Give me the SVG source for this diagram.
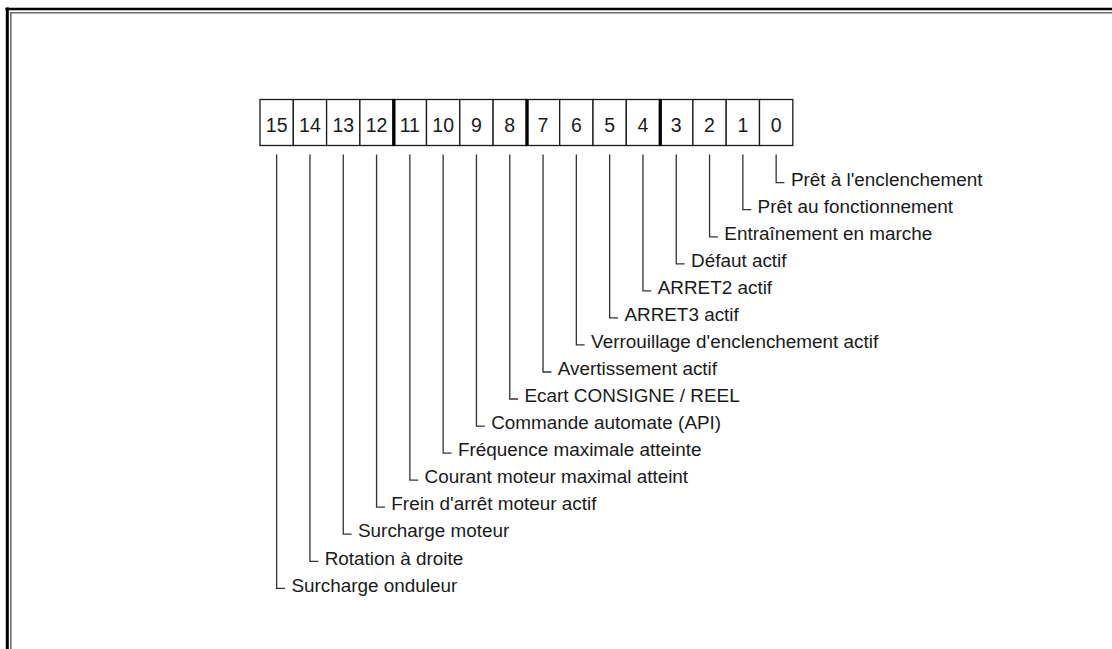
<svg xmlns="http://www.w3.org/2000/svg" width="1112" height="649" viewBox="0 0 1112 649">
  <style>
    .cell { fill: #fff; stroke: #1a1a1a; stroke-width: 1.3; }
    .sep { stroke: #000; stroke-width: 3.2; }
    .num { font-family: "Liberation Sans", Arial, sans-serif; font-size: 19.5px; fill: #1a1a1a; text-anchor: middle; }
    .lbl { font-family: "Liberation Sans", Arial, sans-serif; font-size: 18.9px; fill: #1a1a1a; }
    .conn { fill: none; stroke: #333; stroke-width: 1.3; }
    .frame-outer { stroke: #000; fill: none; }
    .frame-inner { stroke: #6a6a6a; fill: none; stroke-width: 1.5; }
  </style>

  <rect width="1112" height="649" fill="#fff"/>

  <!-- double frame (top and left edges) -->
  <g id="frame">
    <line class="frame-outer" x1="5.5" y1="9" x2="1112" y2="9" stroke-width="2.4"/>
    <line class="frame-outer" x1="7.3" y1="7.5" x2="7.3" y2="649" stroke-width="3"/>
    <line class="frame-inner" x1="10" y1="12.8" x2="1112" y2="12.8"/>
    <line class="frame-inner" x1="10.8" y1="12" x2="10.8" y2="649"/>
  </g>

  <!-- status word: bits 15 .. 0 -->
  <g id="bit15"><rect class="cell" x="260" y="99.5" width="33.3" height="46"/><text class="num" x="276.65" y="132">15</text></g>
  <g id="bit14"><rect class="cell" x="293.3" y="99.5" width="33.3" height="46"/><text class="num" x="309.95" y="132">14</text></g>
  <g id="bit13"><rect class="cell" x="326.6" y="99.5" width="33.3" height="46"/><text class="num" x="343.25" y="132">13</text></g>
  <g id="bit12"><rect class="cell" x="359.9" y="99.5" width="33.3" height="46"/><text class="num" x="376.55" y="132">12</text></g>
  <g id="bit11"><rect class="cell" x="393.2" y="99.5" width="33.3" height="46"/><text class="num" x="409.85" y="132">11</text></g>
  <g id="bit10"><rect class="cell" x="426.5" y="99.5" width="33.3" height="46"/><text class="num" x="443.15" y="132">10</text></g>
  <g id="bit9"><rect class="cell" x="459.8" y="99.5" width="33.3" height="46"/><text class="num" x="476.45" y="132">9</text></g>
  <g id="bit8"><rect class="cell" x="493.1" y="99.5" width="33.3" height="46"/><text class="num" x="509.75" y="132">8</text></g>
  <g id="bit7"><rect class="cell" x="526.4" y="99.5" width="33.3" height="46"/><text class="num" x="543.05" y="132">7</text></g>
  <g id="bit6"><rect class="cell" x="559.7" y="99.5" width="33.3" height="46"/><text class="num" x="576.35" y="132">6</text></g>
  <g id="bit5"><rect class="cell" x="593" y="99.5" width="33.3" height="46"/><text class="num" x="609.65" y="132">5</text></g>
  <g id="bit4"><rect class="cell" x="626.3" y="99.5" width="33.3" height="46"/><text class="num" x="642.95" y="132">4</text></g>
  <g id="bit3"><rect class="cell" x="659.6" y="99.5" width="33.3" height="46"/><text class="num" x="676.25" y="132">3</text></g>
  <g id="bit2"><rect class="cell" x="692.9" y="99.5" width="33.3" height="46"/><text class="num" x="709.55" y="132">2</text></g>
  <g id="bit1"><rect class="cell" x="726.2" y="99.5" width="33.3" height="46"/><text class="num" x="742.85" y="132">1</text></g>
  <g id="bit0"><rect class="cell" x="759.5" y="99.5" width="33.3" height="46"/><text class="num" x="776.15" y="132">0</text></g>

  <!-- nibble separators -->
  <g id="nibble-separators">
    <line class="sep" x1="393.9" y1="99" x2="393.9" y2="146"/>
    <line class="sep" x1="527.1" y1="99" x2="527.1" y2="146"/>
    <line class="sep" x1="660.3" y1="99" x2="660.3" y2="146"/>
  </g>

  <!-- leader lines from each bit to its description -->
  <g id="connectors">
    <path class="conn" d="M776.15 154.5 V182.7 H784.5"/>
    <path class="conn" d="M742.85 154.5 V209.7 H751.2"/>
    <path class="conn" d="M709.55 154.5 V236.8 H717.9"/>
    <path class="conn" d="M676.25 154.5 V263.8 H684.6"/>
    <path class="conn" d="M642.95 154.5 V290.9 H651.3"/>
    <path class="conn" d="M609.65 154.5 V317.9 H618"/>
    <path class="conn" d="M576.35 154.5 V344.9 H584.7"/>
    <path class="conn" d="M543.05 154.5 V372 H551.4"/>
    <path class="conn" d="M509.75 154.5 V399 H518.1"/>
    <path class="conn" d="M476.45 154.5 V426.1 H484.8"/>
    <path class="conn" d="M443.15 154.5 V453.1 H451.5"/>
    <path class="conn" d="M409.85 154.5 V480.1 H418.2"/>
    <path class="conn" d="M376.55 154.5 V507.2 H384.9"/>
    <path class="conn" d="M343.25 154.5 V534.2 H351.6"/>
    <path class="conn" d="M309.95 154.5 V561.3 H318.3"/>
    <path class="conn" d="M276.65 154.5 V588.3 H285"/>
  </g>

  <!-- bit descriptions -->
  <g id="label0"><text class="lbl" x="790.9" y="185.9">Prêt à l'enclenchement</text></g>
  <g id="label1"><text class="lbl" x="757.6" y="212.9">Prêt au fonctionnement</text></g>
  <g id="label2"><text class="lbl" x="724.3" y="240">Entraînement en marche</text></g>
  <g id="label3"><text class="lbl" x="691" y="267">Défaut actif</text></g>
  <g id="label4"><text class="lbl" x="657.7" y="294.1">ARRET2 actif</text></g>
  <g id="label5"><text class="lbl" x="624.4" y="321.1">ARRET3 actif</text></g>
  <g id="label6"><text class="lbl" x="591.1" y="348.1">Verrouillage d'enclenchement actif</text></g>
  <g id="label7"><text class="lbl" x="557.8" y="375.2">Avertissement actif</text></g>
  <g id="label8"><text class="lbl" x="524.5" y="402.2">Ecart CONSIGNE / REEL</text></g>
  <g id="label9"><text class="lbl" x="491.2" y="429.3">Commande automate (API)</text></g>
  <g id="label10"><text class="lbl" x="457.9" y="456.3">Fréquence maximale atteinte</text></g>
  <g id="label11"><text class="lbl" x="424.6" y="483.3">Courant moteur maximal atteint</text></g>
  <g id="label12"><text class="lbl" x="391.3" y="510.4">Frein d'arrêt moteur actif</text></g>
  <g id="label13"><text class="lbl" x="358" y="537.4">Surcharge moteur</text></g>
  <g id="label14"><text class="lbl" x="324.7" y="564.5">Rotation à droite</text></g>
  <g id="label15"><text class="lbl" x="291.4" y="591.5">Surcharge onduleur</text></g>
</svg>
